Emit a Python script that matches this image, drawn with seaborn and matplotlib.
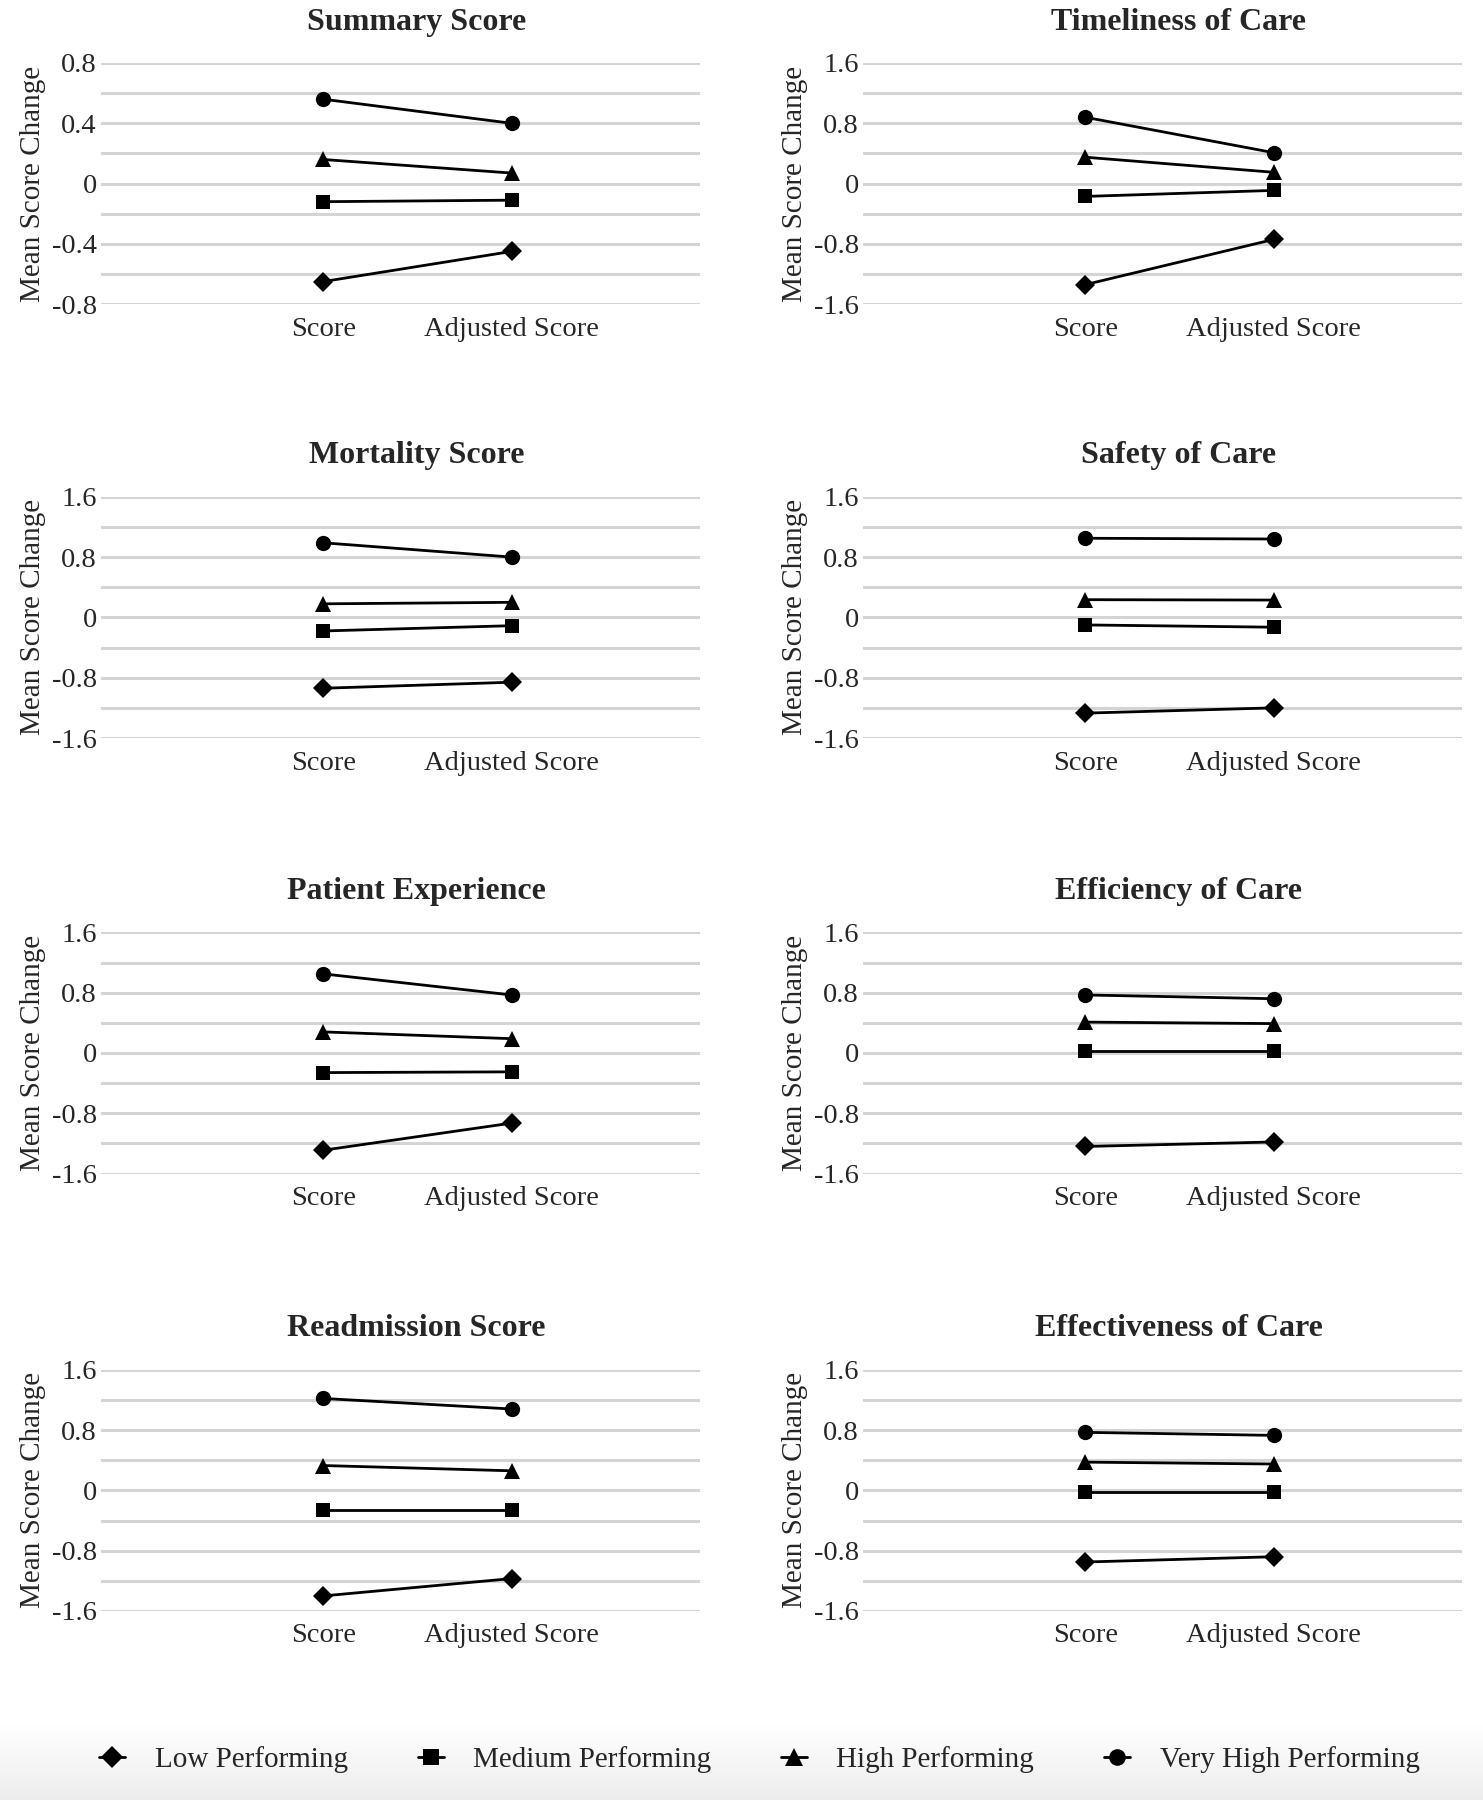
import matplotlib
matplotlib.use('Agg')
import matplotlib.pyplot as plt
from matplotlib.lines import Line2D
from matplotlib.ticker import MultipleLocator, FuncFormatter
import seaborn as sns
import pandas as pd
import numpy as np

# panel titles, in reading order (left-right, top-bottom)
panels = ["Summary Score", "Timeliness of Care",
          "Mortality Score", "Safety of Care",
          "Patient Experience", "Efficiency of Care",
          "Readmission Score", "Effectiveness of Care"]
measures = ["Score", "Adjusted Score"]
groups = ["Low Performing", "Medium Performing", "High Performing", "Very High Performing"]

# values per panel: [score, adjusted score] for each group
low = [[-0.65, -0.45], [-1.34, -0.74], [-0.94, -0.86], [-1.27, -1.20],
       [-1.29, -0.93], [-1.24, -1.18], [-1.40, -1.17], [-0.95, -0.88]]
medium = [[-0.12, -0.11], [-0.17, -0.09], [-0.18, -0.11], [-0.10, -0.13],
          [-0.26, -0.25], [0.02, 0.02], [-0.26, -0.26], [-0.02, -0.02]]
high = [[0.16, 0.07], [0.35, 0.15], [0.18, 0.20], [0.235, 0.23],
        [0.28, 0.19], [0.41, 0.39], [0.33, 0.26], [0.375, 0.35]]
very_high = [[0.56, 0.40], [0.88, 0.41], [0.99, 0.80], [1.05, 1.04],
             [1.05, 0.77], [0.77, 0.72], [1.22, 1.08], [0.77, 0.73]]

rows = []
for gname, vals in zip(groups, [low, medium, high, very_high]):
    for p, pair in zip(panels, vals):
        for i, m in enumerate(measures):
            rows.append({"panel": p, "group": gname, "measure": m, "pos": i, "value": pair[i]})
df = pd.DataFrame(rows)

marker_map = {"Low Performing": "D", "Medium Performing": "s",
              "High Performing": "^", "Very High Performing": "o"}
size_map = {"D": 10, "s": 10, "^": 11.5, "o": 11}

sns.set_style("white")
plt.rcParams['font.family'] = ['Liberation Serif', 'DejaVu Serif']
plt.rcParams['axes.unicode_minus'] = False

fig = plt.figure(figsize=(14.83, 18), dpi=100)

col_x = [0.068, 0.582]
width = 0.404
row_bottom = [0.831, 0.590, 0.348, 0.105]
height = 0.134

for k, p in enumerate(panels):
    r, c = divmod(k, 2)
    ax = fig.add_axes([col_x[c], row_bottom[r], width, height])
    sub = df[df["panel"] == p]
    for gname in groups:
        g = sub[sub["group"] == gname]
        mk = marker_map[gname]
        sns.lineplot(data=g, x="pos", y="value", color="black", marker=mk,
                     markersize=size_map[mk], markeredgewidth=0, linewidth=2.0,
                     ax=ax, legend=False, zorder=3)
    lim = 0.8 if k == 0 else 1.6
    ax.set_ylim(-lim, lim)
    ax.yaxis.set_major_locator(MultipleLocator(lim / 2))
    ax.yaxis.set_minor_locator(MultipleLocator(lim / 4))
    ax.yaxis.set_major_formatter(FuncFormatter(lambda v, _: f"{v:g}"))
    ax.grid(True, which="both", axis="y", color="#d4d4d4", linewidth=2.2, zorder=0)
    ax.set_xlim(-1.18, 2.0)
    ax.set_xticks(range(len(measures)))
    ax.set_xticklabels(measures)
    ax.tick_params(axis="x", length=0, pad=9, labelsize=20.5)
    ax.tick_params(axis="y", which="both", length=0, pad=3, labelsize=20.5)
    for s in ax.spines.values():
        s.set_visible(False)
    ax.set_xlabel("")
    ax.set_ylabel("Mean Score Change", fontsize=21, labelpad=4)
    ax.set_title(p, fontsize=23, fontweight="bold", pad=24, x=0.527)

# faint gray fade behind the legend (white at top, light gray at the bottom)
bg = fig.add_axes([0, 0, 1, 0.06], zorder=-1)
shade = np.concatenate([np.ones(30), np.linspace(1.0, 0.93, 70)])
rgb = np.repeat(shade[:, None, None], 3, axis=2)
bg.imshow(rgb, aspect="auto", extent=[0, 1, 0, 1], origin="upper")
bg.axis("off")

handles = [Line2D([0], [0], color="black", linewidth=2.0, marker=marker_map[g],
                  markersize=size_map[marker_map[g]] + 1, markeredgewidth=0) for g in groups]
fig.legend(handles, groups, loc="center", bbox_to_anchor=(0.512, 0.0225), ncol=4,
           frameon=False, fontsize=21, handlelength=0.9, columnspacing=2.4, handletextpad=1.0)

fig.savefig("out.png", dpi=100)
